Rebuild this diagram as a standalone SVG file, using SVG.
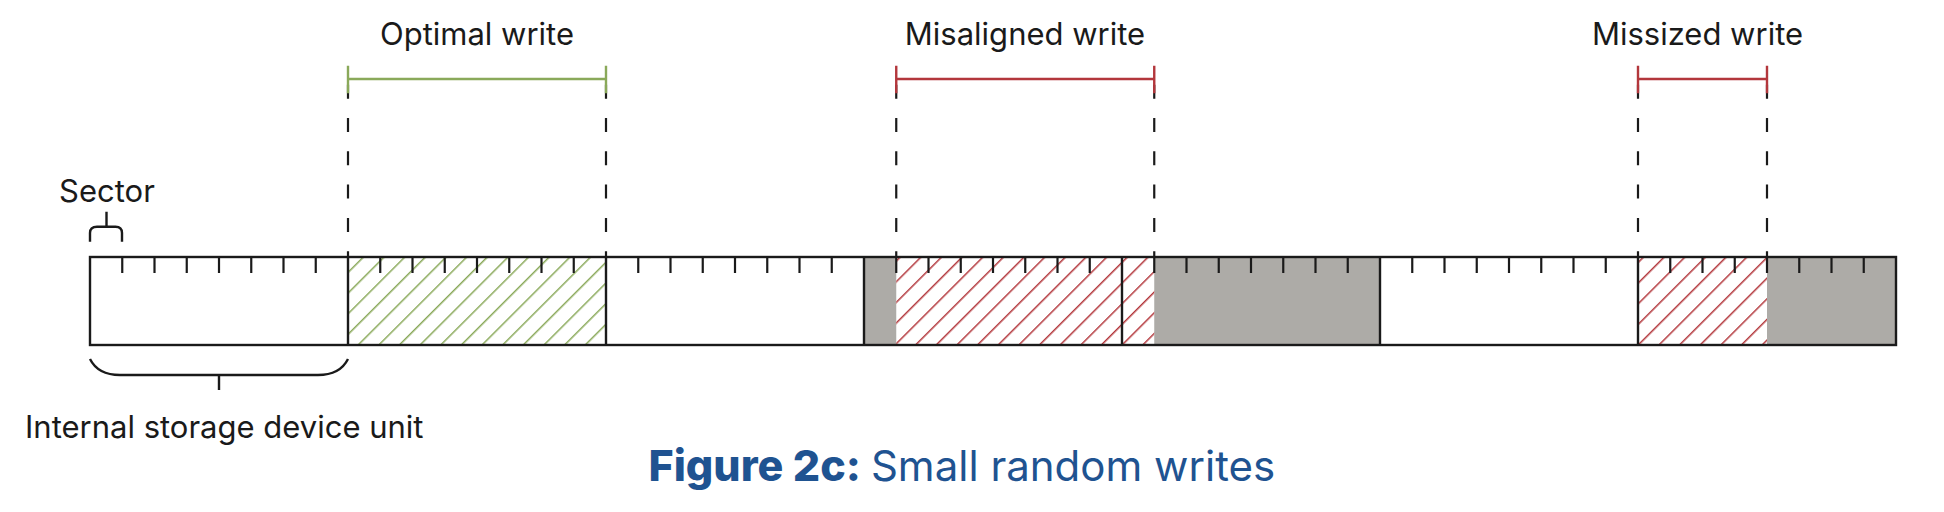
<svg xmlns="http://www.w3.org/2000/svg" width="1944" height="512" viewBox="0 0 1944 512">
<style>
.lbl{font-family:Inter,"Open Sans","Liberation Sans",sans-serif;font-size:31px;fill:#1a1a1a}
.cap{font-family:Inter,"Open Sans","Liberation Sans",sans-serif;font-size:42px;fill:#1f5391}
.ln{stroke:#1a1a1a;stroke-width:2.4;fill:none}
.tick{stroke:#1a1a1a;stroke-width:2.2}
.dash{stroke:#1a1a1a;stroke-width:2.2;stroke-dasharray:14 19.3}
.gbr{stroke:#8aa95a;stroke-width:2.4;fill:none}
.rbr{stroke:#b3373c;stroke-width:2.4;fill:none}
.gray{fill:#adaba7}
</style>
<defs>
<pattern id="hg" patternUnits="userSpaceOnUse" width="14.6" height="14.6" patternTransform="rotate(45)">
<line x1="0" y1="0" x2="0" y2="14.6" stroke="#8aa95a" stroke-width="3"/>
</pattern>
<pattern id="hr" patternUnits="userSpaceOnUse" width="14.6" height="14.6" patternTransform="rotate(45)">
<line x1="0" y1="0" x2="0" y2="14.6" stroke="#b3373c" stroke-width="3"/>
</pattern>
</defs>
<rect width="1944" height="512" fill="#fff"/>

<g id="bar">
<rect x="90" y="257" width="1806" height="88" fill="#fff"/>
<rect class="gray" x="864" y="257" width="32.25" height="88"/>
<rect class="gray" x="1154.25" y="257" width="225.75" height="88"/>
<rect class="gray" x="1767" y="257" width="129" height="88"/>
<rect x="348" y="257" width="258" height="88" fill="url(#hg)"/>
<rect x="896.25" y="257" width="258" height="88" fill="url(#hr)"/>
<rect x="1638" y="257" width="129" height="88" fill="url(#hr)"/>
<g id="ticks" class="tick">
<line x1="122.25" y1="257" x2="122.25" y2="273"/><line x1="154.5" y1="257" x2="154.5" y2="273"/><line x1="186.75" y1="257" x2="186.75" y2="273"/><line x1="219" y1="257" x2="219" y2="273"/><line x1="251.25" y1="257" x2="251.25" y2="273"/><line x1="283.5" y1="257" x2="283.5" y2="273"/><line x1="315.75" y1="257" x2="315.75" y2="273"/>
<line x1="380.25" y1="257" x2="380.25" y2="273"/><line x1="412.5" y1="257" x2="412.5" y2="273"/><line x1="444.75" y1="257" x2="444.75" y2="273"/><line x1="477" y1="257" x2="477" y2="273"/><line x1="509.25" y1="257" x2="509.25" y2="273"/><line x1="541.5" y1="257" x2="541.5" y2="273"/><line x1="573.75" y1="257" x2="573.75" y2="273"/>
<line x1="638.25" y1="257" x2="638.25" y2="273"/><line x1="670.5" y1="257" x2="670.5" y2="273"/><line x1="702.75" y1="257" x2="702.75" y2="273"/><line x1="735" y1="257" x2="735" y2="273"/><line x1="767.25" y1="257" x2="767.25" y2="273"/><line x1="799.5" y1="257" x2="799.5" y2="273"/><line x1="831.75" y1="257" x2="831.75" y2="273"/>
<line x1="896.25" y1="257" x2="896.25" y2="273"/><line x1="928.5" y1="257" x2="928.5" y2="273"/><line x1="960.75" y1="257" x2="960.75" y2="273"/><line x1="993" y1="257" x2="993" y2="273"/><line x1="1025.25" y1="257" x2="1025.25" y2="273"/><line x1="1057.5" y1="257" x2="1057.5" y2="273"/><line x1="1089.75" y1="257" x2="1089.75" y2="273"/>
<line x1="1154.25" y1="257" x2="1154.25" y2="273"/><line x1="1186.5" y1="257" x2="1186.5" y2="273"/><line x1="1218.75" y1="257" x2="1218.75" y2="273"/><line x1="1251" y1="257" x2="1251" y2="273"/><line x1="1283.25" y1="257" x2="1283.25" y2="273"/><line x1="1315.5" y1="257" x2="1315.5" y2="273"/><line x1="1347.75" y1="257" x2="1347.75" y2="273"/>
<line x1="1412.25" y1="257" x2="1412.25" y2="273"/><line x1="1444.5" y1="257" x2="1444.5" y2="273"/><line x1="1476.75" y1="257" x2="1476.75" y2="273"/><line x1="1509" y1="257" x2="1509" y2="273"/><line x1="1541.25" y1="257" x2="1541.25" y2="273"/><line x1="1573.5" y1="257" x2="1573.5" y2="273"/><line x1="1605.75" y1="257" x2="1605.75" y2="273"/>
<line x1="1670.25" y1="257" x2="1670.25" y2="273"/><line x1="1702.5" y1="257" x2="1702.5" y2="273"/><line x1="1734.75" y1="257" x2="1734.75" y2="273"/><line x1="1767" y1="257" x2="1767" y2="273"/><line x1="1799.25" y1="257" x2="1799.25" y2="273"/><line x1="1831.5" y1="257" x2="1831.5" y2="273"/><line x1="1863.75" y1="257" x2="1863.75" y2="273"/>
</g>
<g class="ln">
<line x1="348" y1="257" x2="348" y2="345"/><line x1="606" y1="257" x2="606" y2="345"/><line x1="864" y1="257" x2="864" y2="345"/><line x1="1122" y1="257" x2="1122" y2="345"/><line x1="1380" y1="257" x2="1380" y2="345"/><line x1="1638" y1="257" x2="1638" y2="345"/>
<rect x="90" y="257" width="1806" height="88"/>
</g>
</g>

<g id="connectors">
<line class="dash" x1="348" y1="84.7" x2="348" y2="257"/>
<line class="dash" x1="606" y1="84.7" x2="606" y2="257"/>
<line class="dash" x1="896.25" y1="84.7" x2="896.25" y2="257"/>
<line class="dash" x1="1154.25" y1="84.7" x2="1154.25" y2="257"/>
<line class="dash" x1="1638" y1="84.7" x2="1638" y2="257"/>
<line class="dash" x1="1767" y1="84.7" x2="1767" y2="257"/>
</g>

<g id="optimal">
<path class="gbr" d="M348 65.7V93.3M606 65.7V93.3M348 79H606"/>
<text class="lbl" x="477" y="45" text-anchor="middle">Optimal write</text>
</g>
<g id="misaligned">
<path class="rbr" d="M896.25 65.7V93.3M1154.25 65.7V93.3M896.25 79H1154.25"/>
<text class="lbl" x="1025" y="45" text-anchor="middle">Misaligned write</text>
</g>
<g id="missized">
<path class="rbr" d="M1638 65.7V93.3M1767 65.7V93.3M1638 79H1767"/>
<text class="lbl" x="1697.5" y="45" text-anchor="middle">Missized write</text>
</g>

<g id="sector">
<path class="ln" d="M90 241.7V233 Q90 226.7 97 226.7H115.5Q122 226.7 122 233V241.7M106.5 226.7V211.7"/>
<text class="lbl" x="107" y="201.7" text-anchor="middle">Sector</text>
</g>
<g id="unit">
<path class="ln" d="M90 359Q98 375 120 375H318Q340 375 348 359M219 375V390"/>
<text class="lbl" x="25" y="438.3">Internal storage device unit</text>
</g>
<g id="caption">
<text class="cap" x="648.5" y="481"><tspan font-weight="800" font-size="43">Figure 2c:</tspan><tspan dx="10">Small random writes</tspan></text>
</g>
</svg>
